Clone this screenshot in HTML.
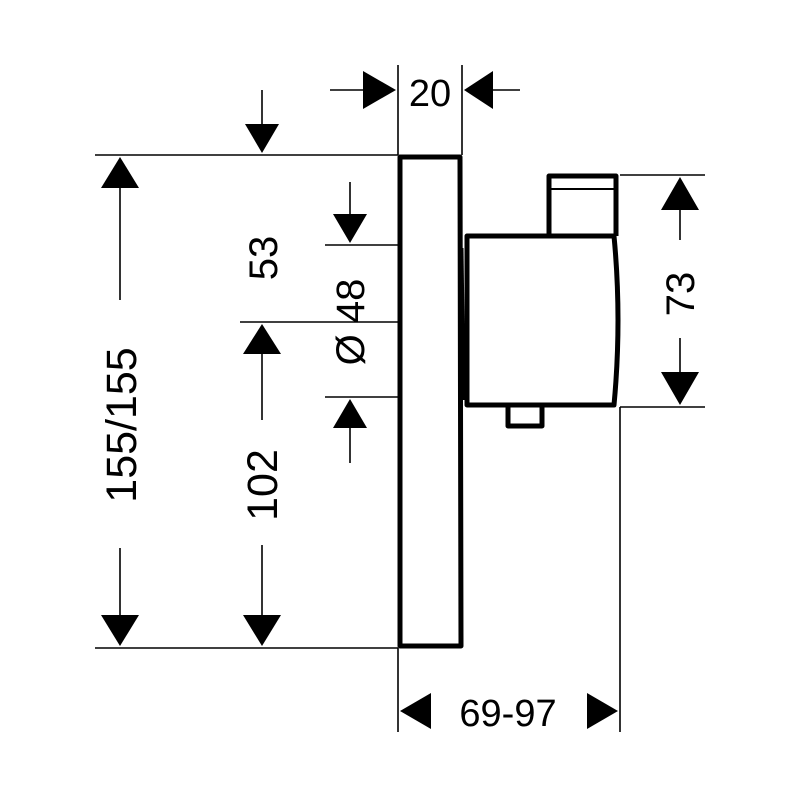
<!DOCTYPE html>
<html><head><meta charset="utf-8"><style>html,body{margin:0;padding:0;background:#fff}svg{display:block}</style></head><body>
<svg width="800" height="800" viewBox="0 0 800 800" xmlns="http://www.w3.org/2000/svg" font-family="Liberation Sans, sans-serif">
<g stroke="#000" stroke-width="1.6" fill="none">
<line x1="95" y1="155" x2="398" y2="155"/>
<line x1="95" y1="648" x2="398" y2="648"/>
<line x1="120" y1="185" x2="120" y2="300"/>
<line x1="120" y1="548" x2="120" y2="620"/>
<line x1="240" y1="322" x2="398" y2="322"/>
<line x1="262" y1="350" x2="262" y2="420"/>
<line x1="262" y1="545" x2="262" y2="620"/>
<line x1="262" y1="90" x2="262" y2="128"/>
<line x1="325" y1="245" x2="398" y2="245"/>
<line x1="325" y1="397" x2="398" y2="397"/>
<line x1="350" y1="182" x2="350" y2="218"/>
<line x1="350" y1="425" x2="350" y2="463"/>
<line x1="398" y1="65" x2="398" y2="155"/>
<line x1="462" y1="65" x2="462" y2="155"/>
<line x1="330" y1="90" x2="365" y2="90"/>
<line x1="490" y1="90" x2="520" y2="90"/>
<line x1="620" y1="175" x2="705" y2="175"/>
<line x1="620" y1="407" x2="705" y2="407"/>
<line x1="680" y1="208" x2="680" y2="240"/>
<line x1="680" y1="338" x2="680" y2="374"/>
<line x1="398" y1="648" x2="398" y2="732"/>
<line x1="620" y1="407" x2="620" y2="732"/>
</g>
<g fill="#000">
<polygon points="120,157 101,188 139,188"/>
<polygon points="120,646 101,615 139,615"/>
<polygon points="262,324 243,354 281,354"/>
<polygon points="262,646 243,615 281,615"/>
<polygon points="262,153 245,124 279,124"/>
<polygon points="350,243 333,214 367,214"/>
<polygon points="350,399 333,428 367,428"/>
<polygon points="396,90 363,71 363,109"/>
<polygon points="464,90 493,71 493,109"/>
<polygon points="680,177 661,210 699,210"/>
<polygon points="680,405 661,372 699,372"/>
<polygon points="400,711 431,693 431,729"/>
<polygon points="618,711 587,693 587,729"/>
</g>
<g stroke="#000" stroke-width="5" fill="none" stroke-linejoin="round">
<path d="M400,157 L460,157 L461,646 L400,646 Z"/>
<path d="M467,236 L614,236 Q622,320 614,405 L467,405 Z"/>
<path d="M549,236 L549,176 L616,176 L616,236"/>
<path d="M508,406 L508,426 L542,426 L542,406"/>
</g>
<line x1="462" y1="248" x2="464" y2="400" stroke="#000" stroke-width="3"/>
<line x1="549" y1="189" x2="616" y2="189" stroke="#000" stroke-width="2"/>
<g font-size="40" fill="#000" text-anchor="middle">
<text x="430" y="106" font-size="38">20</text>
<text x="508" y="726" font-size="38">69-97</text>
<text transform="translate(136,425) rotate(-90)" font-size="43">155/155</text>
<text transform="translate(277,485) rotate(-90)" font-size="43">102</text>
<text transform="translate(277,258) rotate(-90)">53</text>
<text transform="translate(364,322) rotate(-90)">Ø  48</text>
<text transform="translate(694,294) rotate(-90)">73</text>
</g>
</svg>
</body></html>
